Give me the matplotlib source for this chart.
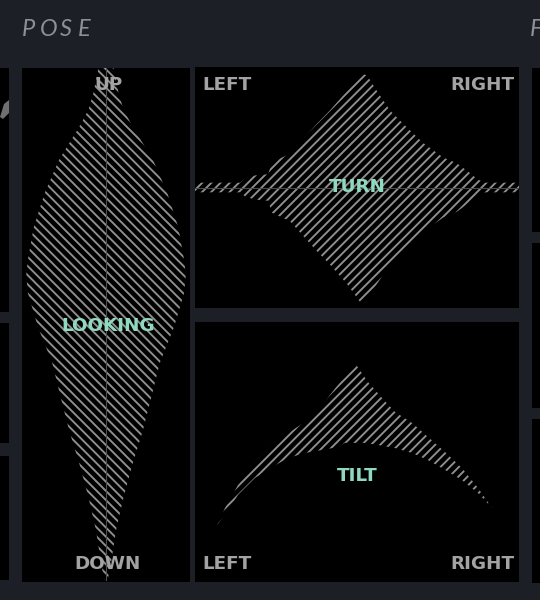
import matplotlib
matplotlib.use('Agg')
import matplotlib.pyplot as plt
from matplotlib.patches import Polygon
import numpy as np

BG = '#1c1f26'
PANEL = '#000000'
HATCH = '#8f8f8f'
LABEL = '#a3a3a3'
TEAL = '#8fd9c1'
TITLE = '#8d9096'

W, H = 540, 600
DPI = 110  # hatch spacing follows dpi, 110 gives ~4.6 px between stripes

plt.rcParams['hatch.linewidth'] = 1.25

# LOOKING (pitch, degrees) -> relative density (half width)
look_pitch = [90, 81.2, 75.3, 69.3, 57.8, 46.2, 34.3, 22.8, 17.5, 11.2, -0.7,
              -13.3, -25.2, -36.8, -48.3, -60.2, -71.8, -83.3, -89.3]
look_dens = [0.09, 0.15, 0.21, 0.32, 0.56, 0.73, 0.86, 0.93, 0.95, 0.93, 0.81,
             0.64, 0.54, 0.44, 0.32, 0.21, 0.12, 0.06, 0.02]

# TURN (yaw, degrees) -> relative density (half height)
turn_yaw = [-90, -65, -62.2, -56.7, -49.4, -47.2, -37.2, -22.2, -15, -5.6, 1.7,
            5.6, 11.1, 18.3, 25.6, 36.7, 47.8, 55.6, 62.8, 66.7, 71, 90]
turn_dens = [0.04, 0.04, 0.075, 0.10, 0.11, 0.21, 0.28, 0.53, 0.64, 0.80, 0.95,
             0.93, 0.80, 0.64, 0.53, 0.37, 0.25, 0.20, 0.12, 0.07, 0.04, 0.04]

# TILT (roll, degrees): upper and lower envelope
tilt_up_x = [-77.8, -73.3, -66.1, -56.7, -47.2, -38.3, -28.9, -19.4, -10.6, -1.1,
             6.1, 13.9, 21.1, 30.6, 39.4, 48.9, 58.3, 67.2, 75]
tilt_up_y = [0.219, 0.285, 0.373, 0.462, 0.527, 0.573, 0.615, 0.681, 0.758, 0.842,
             0.769, 0.708, 0.654, 0.612, 0.558, 0.500, 0.438, 0.362, 0.285]
tilt_lo_x = [-77.8, -73.3, -66.1, -56.7, -47.2, -38.3, -28.9, -19.4, -10.6, -6.7,
             4.4, 11.7, 21.1, 30.6, 39.4, 48.9, 58.3, 67.2, 75]
tilt_lo_y = [0.219, 0.258, 0.335, 0.400, 0.442, 0.477, 0.496, 0.508, 0.519, 0.535,
             0.535, 0.527, 0.515, 0.496, 0.469, 0.431, 0.392, 0.342, 0.285]

fig = plt.figure(figsize=(W / DPI, H / DPI), dpi=DPI, facecolor=BG)


def panel(x0, y0, x1, y1):
    ax = fig.add_axes([x0 / W, 1 - y1 / H, (x1 - x0) / W, (y1 - y0) / H])
    ax.set_facecolor(PANEL)
    ax.set_xticks([])
    ax.set_yticks([])
    for s in ax.spines.values():
        s.set_visible(False)
    return ax


def ftext(x, y, s, **kw):
    fig.text(x / W, 1 - y / H, s, **kw)


lab = dict(color=LABEL, fontsize=12, fontweight='bold', va='center')
mid = dict(color=TEAL, fontsize=12, fontweight='bold', va='center', ha='center')

# neighbouring (cut off) panels
for y0, y1 in [(68, 312), (323, 443), (456, 580)]:
    panel(-5, y0, 9, y1)
for y0, y1 in [(68, 232), (243, 408), (419, 583)]:
    panel(532, y0, 545, y1)
fig.patches.append(Polygon([[0, 1 - 117 / H], [4 / W, 1 - 104 / H],
                            [9 / W, 1 - 100 / H], [9 / W, 1 - 113 / H],
                            [3 / W, 1 - 119 / H]],
                           closed=True, transform=fig.transFigure,
                           facecolor='#6f6f6f', edgecolor='none'))

# LOOKING
ax = panel(22, 68, 190, 582)
ax.fill_betweenx(look_pitch, -np.array(look_dens), look_dens,
                 facecolor='none', edgecolor=HATCH, linewidth=0,
                 hatch='\\\\\\\\')
ax.plot([0, 0], [look_pitch[-1], look_pitch[0]], color='#505050', lw=0.7)
ax.set_xlim(-1, 1)
ax.set_ylim(-90, 90)

# TURN
ax = panel(195, 67, 519, 308)
ax.fill_between(turn_yaw, -np.array(turn_dens), turn_dens,
                facecolor='none', edgecolor=HATCH, linewidth=0, hatch='////')
ax.axhline(0, color='#4a4a4a', lw=0.7)
ax.set_xlim(-90, 90)
ax.set_ylim(-1, 1)

# TILT
ax = panel(195, 322, 519, 582)
ax.fill(list(tilt_up_x) + tilt_lo_x[::-1], list(tilt_up_y) + tilt_lo_y[::-1],
        facecolor='none', edgecolor=HATCH, linewidth=0, hatch='////')
ax.set_xlim(-90, 90)
ax.set_ylim(0, 1)

# titles
for ch, x in zip('POSE', [22, 40, 60, 78]):
    ftext(x, 30, ch, color=TITLE, fontsize=15.5, style='italic',
          family='Lato', va='center')
ftext(530, 30, 'F', color=TITLE, fontsize=15.5, style='italic',
      family='Lato', va='center')

# labels
ftext(108, 85, 'UP', ha='center', **lab)
ftext(108, 564, 'DOWN', ha='center', **lab)
ftext(108, 326, 'LOOKING', **mid)
ftext(202, 85, 'LEFT', ha='left', **lab)
ftext(515, 85, 'RIGHT', ha='right', **lab)
ftext(357, 187, 'TURN', **mid)
ftext(202, 564, 'LEFT', ha='left', **lab)
ftext(515, 564, 'RIGHT', ha='right', **lab)
ftext(357, 476, 'TILT', **mid)

fig.savefig('out.png', dpi=DPI, facecolor=BG)
